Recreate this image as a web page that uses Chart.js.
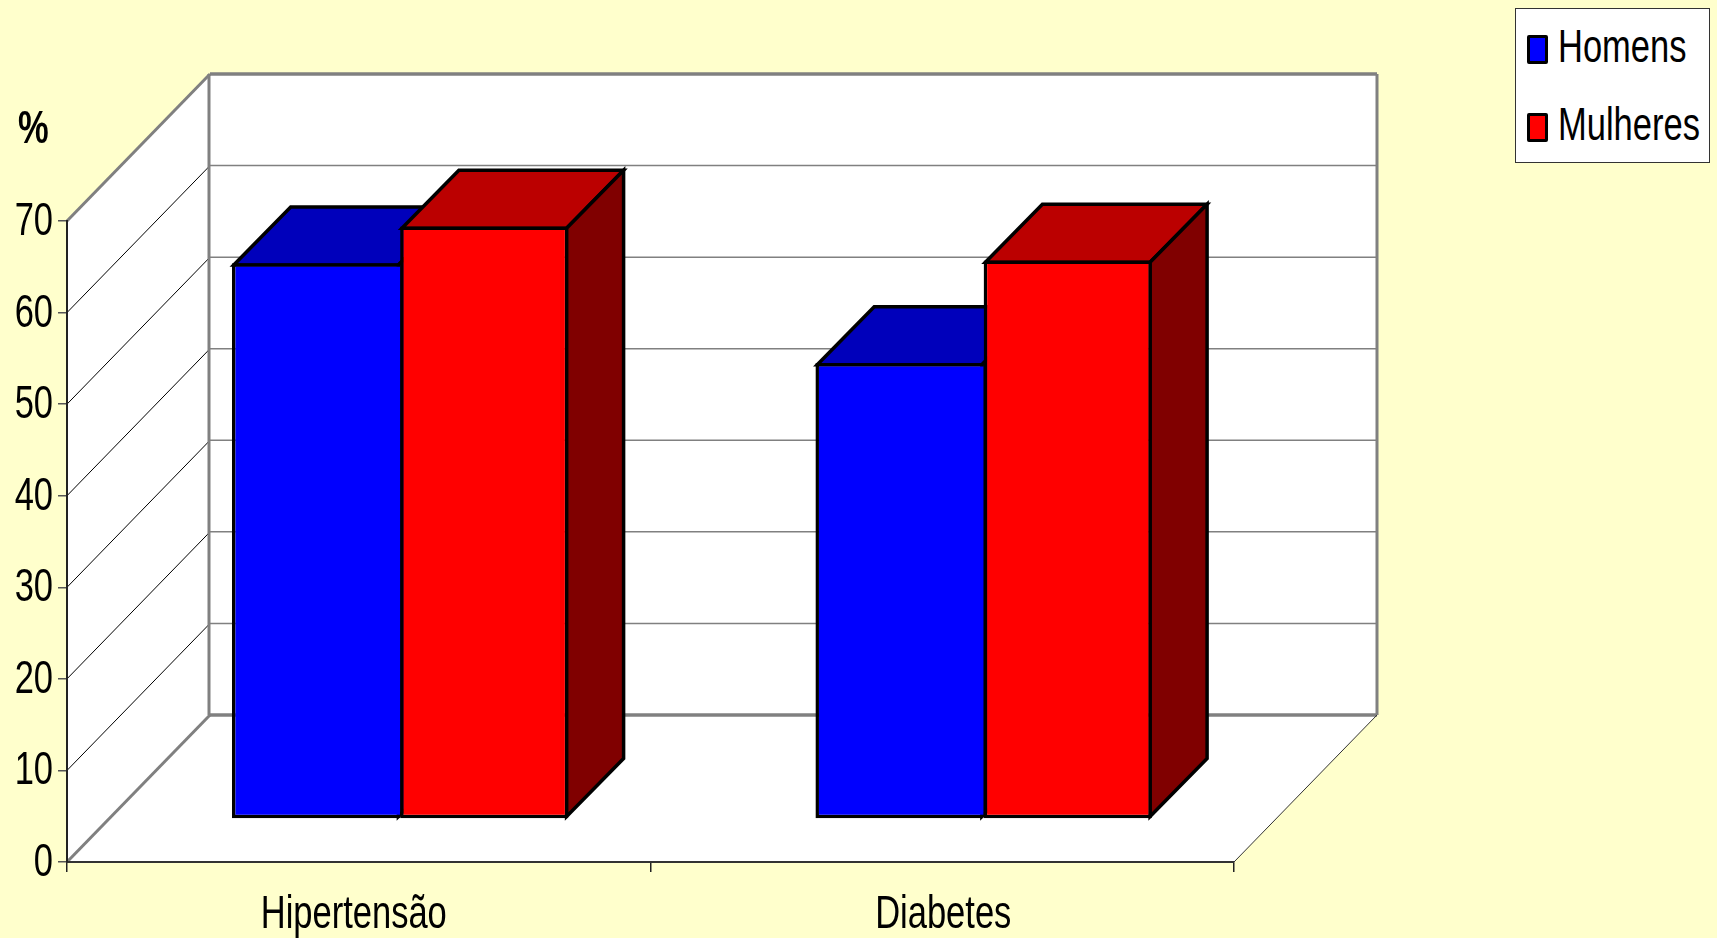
<!DOCTYPE html>
<html lang="pt">
<head>
<meta charset="utf-8">
<title>Hipertensão e Diabetes</title>
<script src="https://cdn.jsdelivr.net/npm/chart.js@4/dist/chart.umd.min.js"></script>
<style>
  html, body { margin: 0; padding: 0; background: #ffffcc; overflow: hidden; }
  #wrap { position: relative; width: 1717px; height: 938px; }
  #legend {
    position: absolute; left: 1515px; top: 8px; width: 193px; height: 153px;
    background: #fff; border: 1px solid #333;
    font: 46px "Liberation Sans", sans-serif; color: #000;
  }
  #legend .row { position: absolute; left: 0; height: 50px; line-height: 50px; white-space: nowrap; }
  #legend .swatch {
    position: absolute; left: 11px; top: 14px; width: 21px; height: 29px;
    border: 3px solid #000; border-radius: 2px; box-sizing: border-box;
  }
  #legend .name {
    position: absolute; left: 42px; top: 0;
    transform: scaleX(0.75); transform-origin: left center;
  }
</style>
</head>
<body>
<div id="wrap">
  <canvas id="chart" width="1717" height="938"></canvas>
  <div id="legend"></div>
</div>
<script>
const categories = ['Hipertensão', 'Diabetes'];
const homens = [60.7, 49.8];
const mulheres = [64.7, 61.0];
const yTicksMax = 70;
const yTicksStep = 10;
const yTitle = '%';

const FONT = '"Liberation Sans", sans-serif';
const FONT_SIZE = 46;
// o original usa uma fonte estreita; aqui comprimimos a Liberation Sans
const NARROW = 0.75;
const catLabelNudge = [-5, 1];

// profundidade do "3D" (parede do fundo e barras)
const WALL_DX = 143, WALL_DY = 147;
const BAR_SHIFT_X = 41.4, BAR_SHIFT_Y = 43;
const BAR_DX = 57, BAR_DY = 58;
const BAR_LINE = 3.5;

const faces = {
  Homens: { top: '#0000bb', side: '#000080' },
  Mulheres: { top: '#bb0000', side: '#800000' }
};

function poly(ctx, pts, fill, stroke, lw) {
  ctx.beginPath();
  pts.forEach((p, i) => i ? ctx.lineTo(p[0], p[1]) : ctx.moveTo(p[0], p[1]));
  ctx.closePath();
  if (fill) { ctx.fillStyle = fill; ctx.fill(); }
  if (stroke) { ctx.strokeStyle = stroke; ctx.lineWidth = lw; ctx.lineJoin = 'miter'; ctx.stroke(); }
}

function line(ctx, x1, y1, x2, y2, color, lw) {
  ctx.beginPath();
  ctx.moveTo(x1, y1);
  ctx.lineTo(x2, y2);
  ctx.strokeStyle = color;
  ctx.lineWidth = lw;
  ctx.stroke();
}

function narrowText(ctx, text, x, y, align, font) {
  ctx.save();
  ctx.translate(x, y);
  ctx.scale(NARROW, 1);
  ctx.font = font;
  ctx.textAlign = align;
  ctx.textBaseline = 'alphabetic';
  ctx.fillStyle = '#000';
  ctx.fillText(text, 0, 0);
  ctx.restore();
}

const box3d = {
  id: 'box3d',
  // fundo, chao e paredes, antes das escalas
  beforeDraw(chart) {
    const { ctx, chartArea: a, scales: { x, y } } = chart;
    const l = a.left, r = a.right;
    const y0 = y.getPixelForValue(0), yMax = y.getPixelForValue(yTicksMax);
    ctx.save();
    ctx.fillStyle = '#ffffcc';
    ctx.fillRect(0, 0, chart.width, chart.height);

    poly(ctx, [[l, y0], [l, yMax], [l + WALL_DX, yMax - WALL_DY], [l + WALL_DX, y0 - WALL_DY]], '#fff');
    poly(ctx, [[l + WALL_DX, yMax - WALL_DY], [r + WALL_DX, yMax - WALL_DY], [r + WALL_DX, y0 - WALL_DY], [l + WALL_DX, y0 - WALL_DY]], '#fff');
    poly(ctx, [[l, y0], [l + WALL_DX, y0 - WALL_DY], [r + WALL_DX, y0 - WALL_DY], [r, y0]], '#fff');

    for (let v = yTicksStep; v < yTicksMax; v += yTicksStep) {
      const py = y.getPixelForValue(v);
      line(ctx, l, py, l + WALL_DX, py - WALL_DY, '#000', 1);
      line(ctx, l + WALL_DX, py - WALL_DY, r + WALL_DX, py - WALL_DY, '#808080', 1.5);
    }

    const grey = '#808080';
    line(ctx, l, yMax, l + WALL_DX, yMax - WALL_DY, grey, 3);
    line(ctx, l + WALL_DX, yMax - WALL_DY, r + WALL_DX, yMax - WALL_DY, grey, 3.5);
    line(ctx, l + WALL_DX - 1, yMax - WALL_DY, l + WALL_DX - 1, y0 - WALL_DY, grey, 3);
    line(ctx, r + WALL_DX, yMax - WALL_DY, r + WALL_DX, y0 - WALL_DY, grey, 3);
    line(ctx, l + WALL_DX, y0 - WALL_DY, r + WALL_DX, y0 - WALL_DY, grey, 3.5);
    line(ctx, l, y0, l + WALL_DX, y0 - WALL_DY, grey, 3);
    line(ctx, r, y0, r + WALL_DX, y0 - WALL_DY, '#333', 1);

    // textos dos eixos, nas posicoes das escalas
    const font = FONT_SIZE + 'px ' + FONT;
    y.ticks.forEach(t => narrowText(ctx, String(t.value), 53, y.getPixelForValue(t.value) + 14, 'right', font));
    categories.forEach((c, i) => narrowText(ctx, c, x.getPixelForValue(i) + catLabelNudge[i], 928, 'center', font));
    narrowText(ctx, yTitle, 18, 143, 'left', 'bold ' + font);
    ctx.restore();
  },
  // Homens antes de Mulheres, cada um com as faces de cima e do lado
  beforeDatasetsDraw(chart) {
    const { ctx } = chart;
    const inset = BAR_LINE / 2;
    chart.data.datasets.forEach((ds, i) => {
      const meta = chart.getDatasetMeta(i);
      const f = faces[ds.label];
      ctx.save();
      ctx.translate(BAR_SHIFT_X, -BAR_SHIFT_Y);
      meta.data.forEach(bar => {
        const x1 = bar.x - bar.width / 2 + inset, x2 = bar.x + bar.width / 2 - inset;
        const t = bar.y + inset, b = bar.base - inset;
        poly(ctx, [[x1, t], [x1 + BAR_DX, t - BAR_DY], [x2 + BAR_DX, t - BAR_DY], [x2, t]], f.top, '#000', BAR_LINE);
        poly(ctx, [[x2, t], [x2 + BAR_DX, t - BAR_DY], [x2 + BAR_DX, b - BAR_DY], [x2, b]], f.side, '#000', BAR_LINE);
      });
      meta.controller.draw();
      ctx.restore();
    });
    return false;
  }
};

const chart = new Chart(document.getElementById('chart'), {
  type: 'bar',
  data: {
    labels: categories,
    datasets: [
      { label: 'Homens', data: homens, backgroundColor: '#0000ff', borderWidth: { top: BAR_LINE, left: BAR_LINE, bottom: BAR_LINE, right: 0 } },
      { label: 'Mulheres', data: mulheres, backgroundColor: '#ff0000', borderWidth: BAR_LINE }
    ]
  },
  options: {
    responsive: false,
    animation: false,
    devicePixelRatio: 1,
    layout: { padding: { top: 221, right: 483, bottom: 0, left: 0 } },
    datasets: {
      bar: {
        categoryPercentage: 0.5765,
        barPercentage: 1,
        borderColor: '#000',
        borderSkipped: false
      }
    },
    plugins: {
      legend: { display: false },
      tooltip: { enabled: false }
    },
    scales: {
      x: {
        afterFit(s) { s.height = 76; },
        border: { color: '#333', width: 2 },
        grid: { drawOnChartArea: false, drawTicks: true, tickLength: 10, color: '#222', lineWidth: 1.5 },
        ticks: { display: false }
      },
      y: {
        min: 0,
        max: yTicksMax,
        afterFit(s) { s.width = 67; },
        border: { color: '#222', width: 2 },
        grid: { drawOnChartArea: false, drawTicks: true, tickLength: 9, color: '#555', lineWidth: 1.5 },
        ticks: { stepSize: yTicksStep, display: false }
      }
    }
  },
  plugins: [box3d]
});

// legenda em HTML, a partir dos datasets
const legend = document.getElementById('legend');
legend.innerHTML = chart.data.datasets.map((d, i) => `
  <div class="row" style="top:${i * 78 + 12}px">
    <span class="swatch" style="background:${d.backgroundColor}"></span>
    <span class="name">${d.label}</span>
  </div>
`).join('');
</script>
</body>
</html>
